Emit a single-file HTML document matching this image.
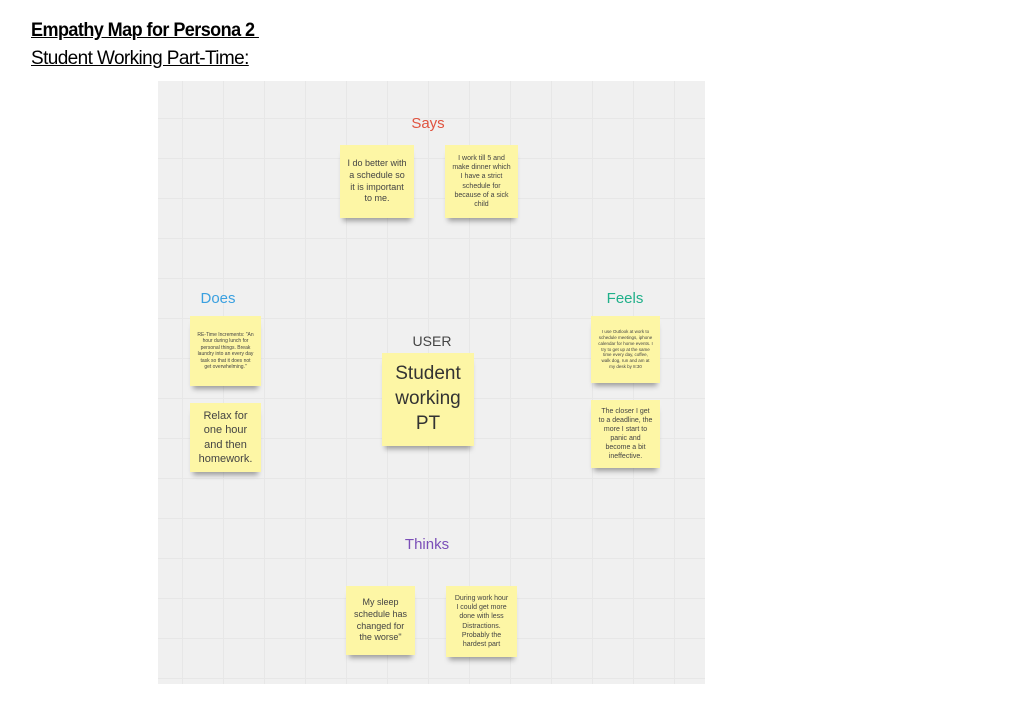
<!DOCTYPE html>
<html><head><meta charset="utf-8"><style>
body{margin:0;width:1024px;height:713px;background:#fff;position:relative;overflow:hidden;font-family:"Liberation Sans",sans-serif;}
.t{position:absolute;left:31px;font-size:19px;text-decoration:underline;color:#000;letter-spacing:-0.6px;transform-origin:left;}
#c{position:absolute;left:158px;top:81px;width:547px;height:603px;background-color:#f0f0f0;
background-image:linear-gradient(#e7e7e7 1px,transparent 1px),linear-gradient(90deg,#e7e7e7 1px,transparent 1px);
background-size:41px 40px;background-position:24px 37px;}
.s{position:absolute;background:#fdf6a5;color:#444;text-align:center;display:flex;align-items:center;justify-content:center;box-sizing:border-box;padding:3px 7px;box-shadow:0 6px 5px -3px rgba(0,0,0,0.35);line-height:1.3;}
.l{position:absolute;font-size:15px;transform:translateX(-50%);}
</style></head><body>
<div class="t" style="top:20px;font-weight:bold;transform:scaleX(0.95);">Empathy Map for Persona 2&nbsp;</div>
<div class="t" style="top:48px;">Student Working Part-Time:</div>
<div id="c"></div>
<div class="l" style="left:428px;top:115px;color:#e0533f">Says</div>
<div class="l" style="left:218px;top:290px;color:#3aa0e0">Does</div>
<div class="l" style="left:625px;top:290px;color:#20b08a">Feels</div>
<div class="l" style="left:427px;top:536px;color:#7b4fb8">Thinks</div>
<div class="l" style="left:432px;top:333px;color:#444;font-size:14px">USER</div>
<div class="s" style="left:340px;top:145px;width:74px;height:73px;font-size:9px">I do better with a schedule so it is important to me.</div>
<div class="s" style="left:445px;top:145px;width:73px;height:73px;font-size:7px">I work till 5 and make dinner which I have a strict schedule for because of a sick child</div>
<div class="s" style="left:190px;top:316px;width:71px;height:70px;font-size:5px">RE-Time Increments: "An hour during lunch for personal things. Break laundry into an every day task so that it does not get overwhelming."</div>
<div class="s" style="left:190px;top:403px;width:71px;height:69px;font-size:11px">Relax for one hour and then homework.</div>
<div class="s" style="left:591px;top:316px;width:69px;height:67px;font-size:4.5px">I use Outlook at work to schedule meetings, iphone calendar for home events. I try to get up at the same time every day, coffee, walk dog, run and am at my desk by 8:30</div>
<div class="s" style="left:591px;top:400px;width:69px;height:68px;font-size:7px">The closer I get to a deadline, the more I start to panic and become a bit ineffective.</div>
<div class="s" style="left:382px;top:353px;width:92px;height:93px;font-size:19px;color:#333">Student working PT</div>
<div class="s" style="left:346px;top:586px;width:69px;height:69px;font-size:9px">My sleep schedule has changed for the worse"</div>
<div class="s" style="left:446px;top:586px;width:71px;height:71px;font-size:7px">During work hour I could get more done with less Distractions. Probably the hardest part</div>
</body></html>
